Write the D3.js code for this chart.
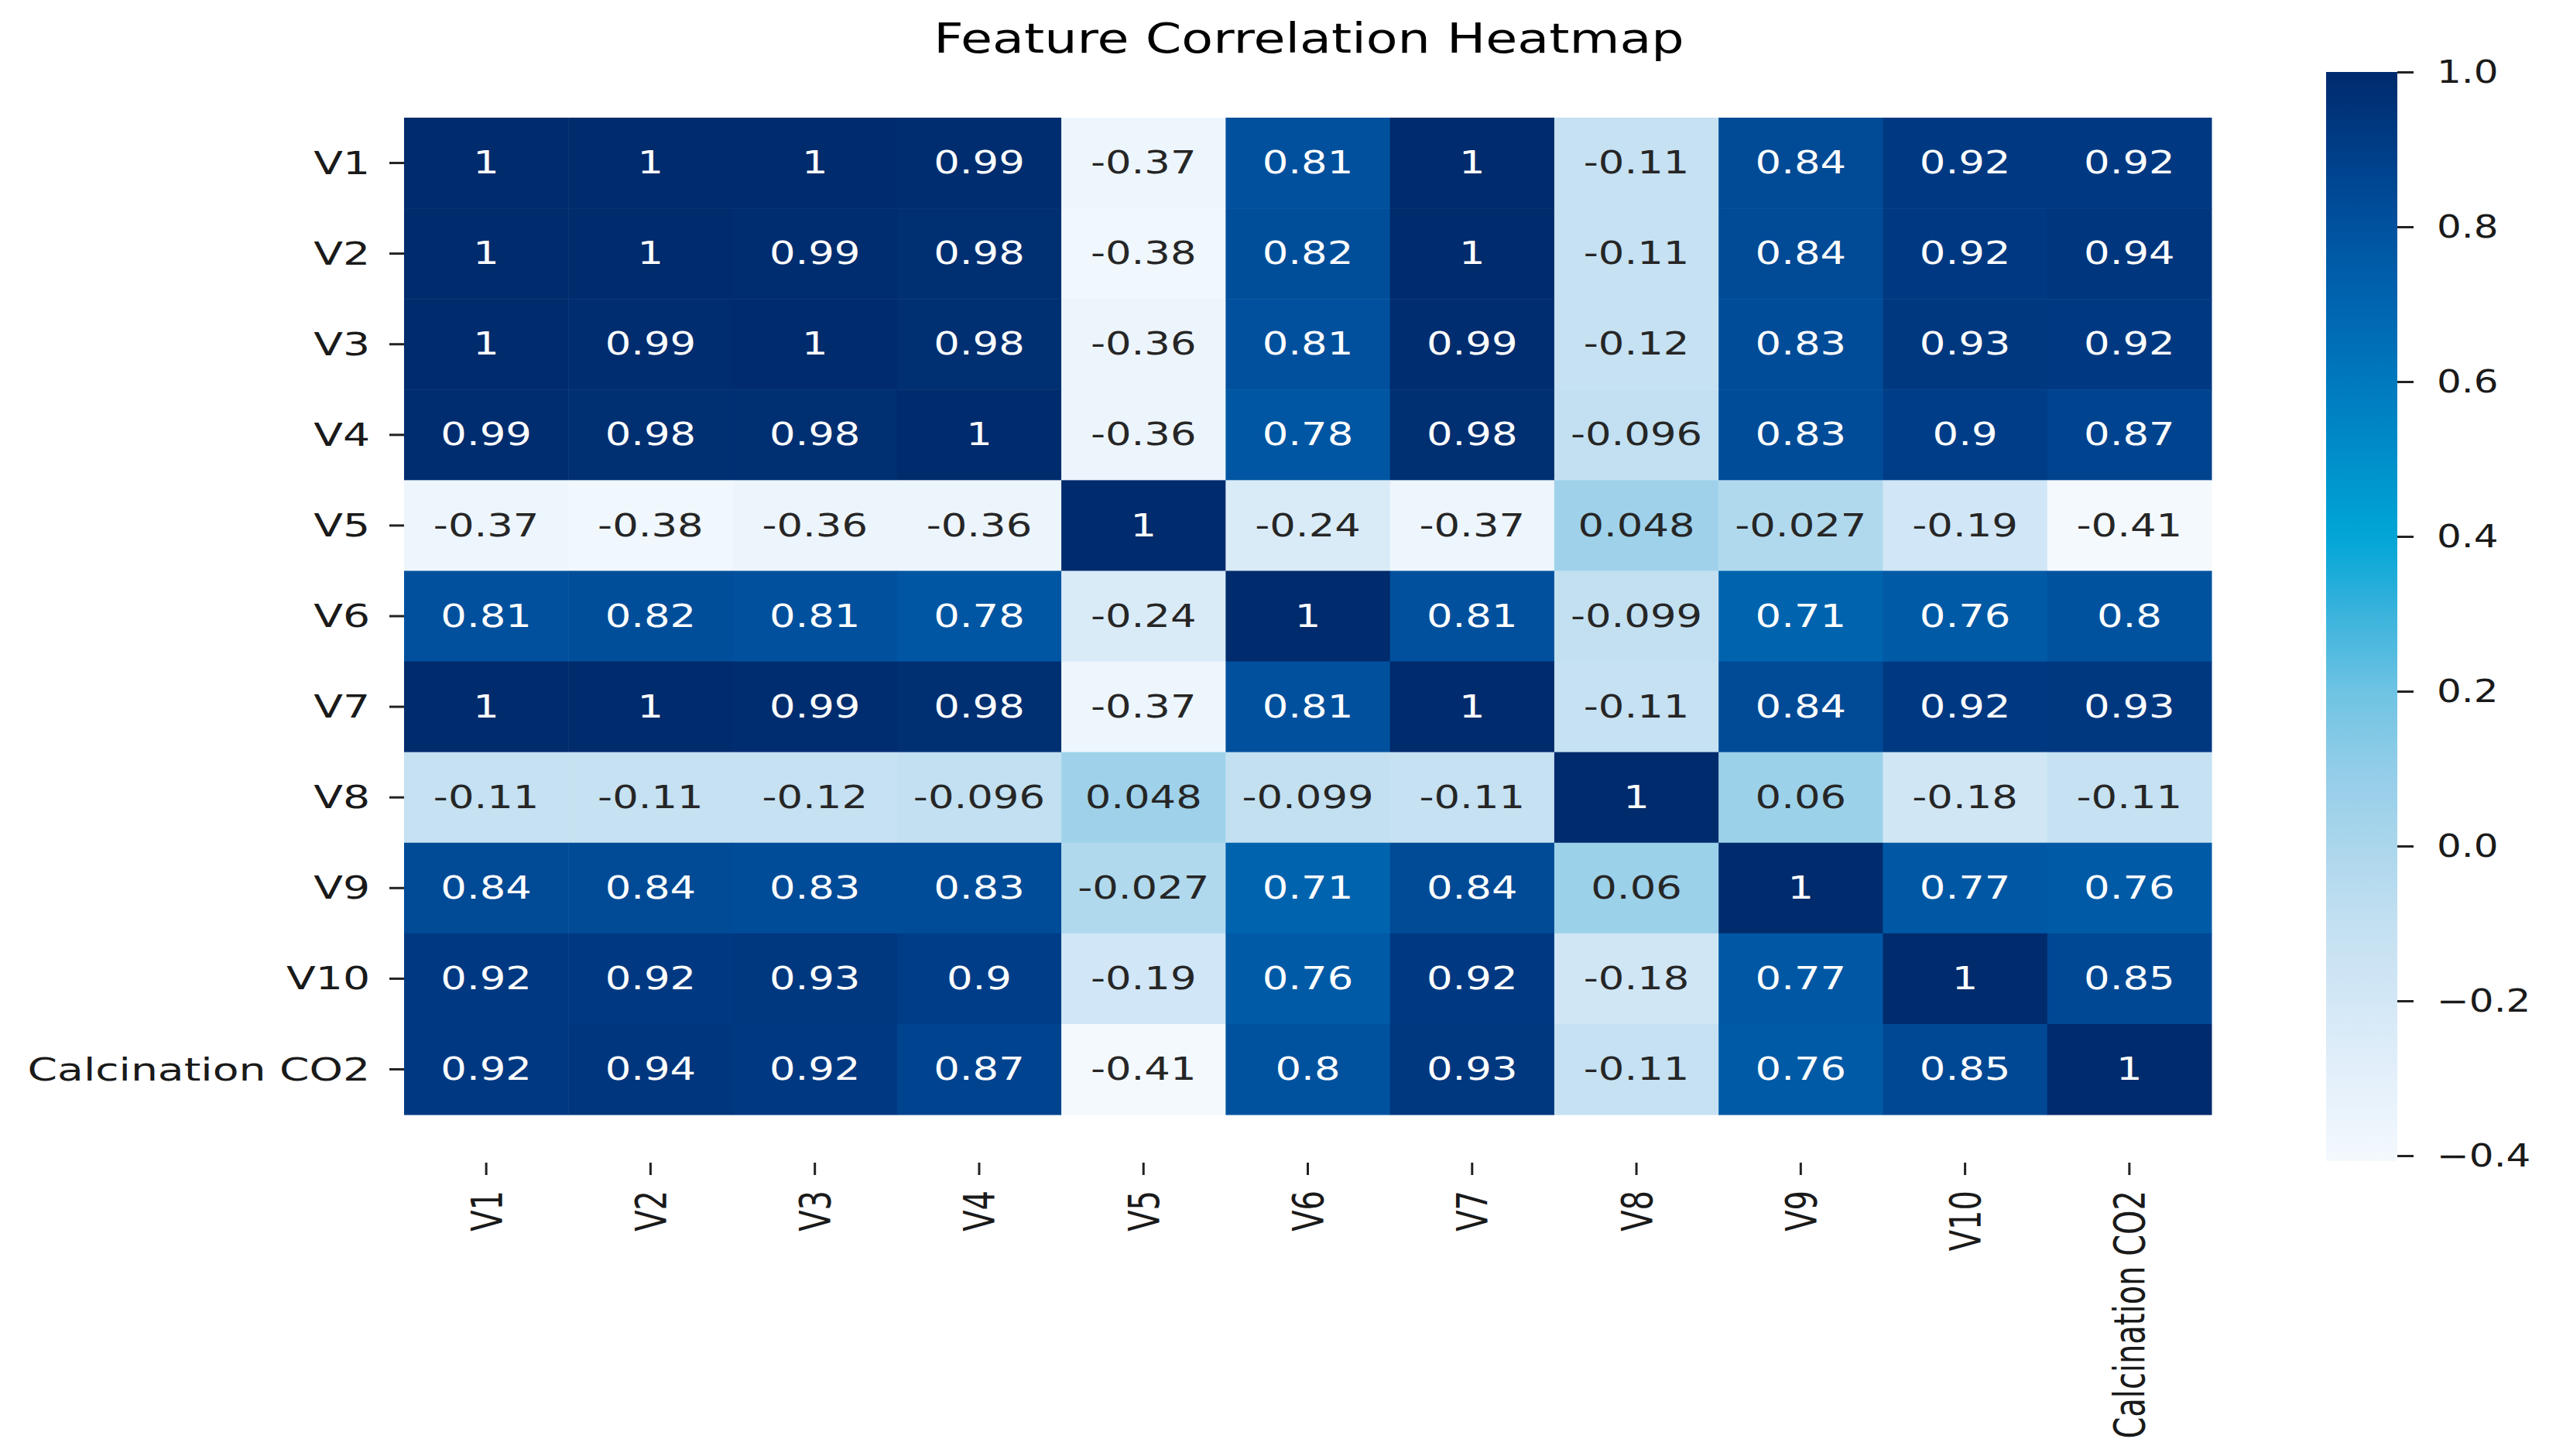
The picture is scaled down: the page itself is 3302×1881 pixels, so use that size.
<!DOCTYPE html>
<html>
<head>
<meta charset="utf-8">
<script src="https://cdn.jsdelivr.net/npm/d3@7"></script>
<style>
  html, body { margin: 0; padding: 0; background: #ffffff; }
  svg text { font-family: "DejaVu Sans", sans-serif; }
</style>
</head>
<body>
<svg id="chart" width="3302" height="1881"></svg>
<script>
// ---------- data ----------
const features = ["V1", "V2", "V3", "V4", "V5", "V6", "V7", "V8", "V9", "V10", "Calcination CO2"];
const rowV1  = [1, 1, 1, 0.99, -0.37, 0.81, 1, -0.11, 0.84, 0.92, 0.92];
const rowV2  = [1, 1, 0.99, 0.98, -0.38, 0.82, 1, -0.11, 0.84, 0.92, 0.94];
const rowV3  = [1, 0.99, 1, 0.98, -0.36, 0.81, 0.99, -0.12, 0.83, 0.93, 0.92];
const rowV4  = [0.99, 0.98, 0.98, 1, -0.36, 0.78, 0.98, -0.096, 0.83, 0.9, 0.87];
const rowV5  = [-0.37, -0.38, -0.36, -0.36, 1, -0.24, -0.37, 0.048, -0.027, -0.19, -0.41];
const rowV6  = [0.81, 0.82, 0.81, 0.78, -0.24, 1, 0.81, -0.099, 0.71, 0.76, 0.8];
const rowV7  = [1, 1, 0.99, 0.98, -0.37, 0.81, 1, -0.11, 0.84, 0.92, 0.93];
const rowV8  = [-0.11, -0.11, -0.12, -0.096, 0.048, -0.099, -0.11, 1, 0.06, -0.18, -0.11];
const rowV9  = [0.84, 0.84, 0.83, 0.83, -0.027, 0.71, 0.84, 0.06, 1, 0.77, 0.76];
const rowV10 = [0.92, 0.92, 0.93, 0.9, -0.19, 0.76, 0.92, -0.18, 0.77, 1, 0.85];
const rowCO2 = [0.92, 0.94, 0.92, 0.87, -0.41, 0.8, 0.93, -0.11, 0.76, 0.85, 1];
const colorbarTicks = [-0.4, -0.2, 0.0, 0.2, 0.4, 0.6, 0.8, 1.0];
const titleText = "Feature Correlation Heatmap";

// colour map stops (value -> colour)
const cmapValues = [-0.407, -0.3, -0.2, -0.1, 0.0, 0.1, 0.2, 0.3, 0.4, 0.5, 0.6, 0.7, 0.8, 0.9, 1.0];
const cmapColors = ["#f4f9fe", "#e4f0fa", "#d3e7f6", "#c3e0f1", "#abd6ec", "#92cde8", "#6ec3e3", "#3ab3dc",
                    "#00a6d6", "#008fca", "#0079be", "#0065b0", "#00529f", "#003d88", "#002b6c"];

const rows = [rowV1, rowV2, rowV3, rowV4, rowV5, rowV6, rowV7, rowV8, rowV9, rowV10, rowCO2];
const cells = [];
rows.forEach((r, i) => r.forEach((v, j) => cells.push({ row: features[i], col: features[j], v })));

// ---------- layout ----------
const svg = d3.select("#chart");
const hm = { left: 522, right: 2857, top: 152, bottom: 1440 };
const cb = { left: 3005, right: 3097 };
const SX_CELL = 1.32, SX_LABEL = 1.38, SX_CB = 1.25, SX_TITLE = 1.26;

const x = d3.scaleBand().domain(features).range([hm.left, hm.right]).padding(0);
const y = d3.scaleBand().domain(features).range([hm.top, hm.bottom]).padding(0);
const color = d3.scaleLinear().domain(cmapValues).range(cmapColors).interpolate(d3.interpolateRgb).clamp(true);
const cbScale = d3.scaleLinear().domain([cmapValues[0], 1.0]).range([1500, 93]);

// ---------- title ----------
svg.append("text")
  .attr("transform", `translate(1691,68) scale(${SX_TITLE},1)`)
  .attr("text-anchor", "middle")
  .attr("font-size", 53)
  .attr("fill", "#000")
  .text(titleText);

// ---------- cells ----------
svg.append("g").selectAll("rect").data(cells).join("rect")
  .attr("x", d => x(d.col))
  .attr("y", d => y(d.row))
  .attr("width", x.bandwidth() + 0.5)
  .attr("height", y.bandwidth() + 0.5)
  .attr("fill", d => color(d.v));

svg.append("g").selectAll("text").data(cells).join("text")
  .attr("transform", d => `translate(${x(d.col) + x.bandwidth() / 2},${y(d.row) + y.bandwidth() / 2}) scale(${SX_CELL},1)`)
  .attr("text-anchor", "middle")
  .attr("dominant-baseline", "central")
  .attr("font-size", 40)
  .attr("fill", d => d.v > 0.4 ? "#ffffff" : "#262626")
  .text(d => String(d.v));

// ---------- y axis ----------
const yAxis = svg.append("g")
  .attr("transform", `translate(${hm.left},0)`)
  .call(d3.axisLeft(y).tickSize(19).tickPadding(25));
yAxis.select(".domain").remove();
yAxis.selectAll(".tick line").attr("stroke", "#222").attr("stroke-width", 3);
yAxis.selectAll(".tick text")
  .attr("font-size", 40)
  .attr("fill", "#1a1a1a")
  .attr("dy", null)
  .attr("dominant-baseline", "central")
  .attr("transform", `translate(-44,0) scale(${SX_LABEL},1) translate(44,0)`);

// ---------- x axis ----------
const xAxis = svg.append("g")
  .attr("transform", `translate(0,1502)`)
  .call(d3.axisBottom(x).tickSize(16));
xAxis.select(".domain").remove();
xAxis.selectAll(".tick line").attr("stroke", "#222").attr("stroke-width", 3);
xAxis.selectAll(".tick text")
  .attr("font-size", 40)
  .attr("fill", "#1a1a1a")
  .attr("x", 0).attr("y", 0).attr("dy", null)
  .attr("text-anchor", "end")
  .attr("dominant-baseline", "central")
  .attr("transform", `translate(0,36) scale(${SX_LABEL},1) rotate(-90)`);

// ---------- colour bar ----------
const defs = svg.append("defs");
const grad = defs.append("linearGradient")
  .attr("id", "cbgrad").attr("x1", 0).attr("y1", 1).attr("x2", 0).attr("y2", 0);
const nStops = 60;
d3.range(nStops + 1).forEach(k => {
  const t = k / nStops;
  const v = cmapValues[0] + t * (1.0 - cmapValues[0]);
  grad.append("stop").attr("offset", t).attr("stop-color", color(v));
});
svg.append("rect")
  .attr("x", cb.left).attr("y", cbScale(1.0))
  .attr("width", cb.right - cb.left)
  .attr("height", cbScale(cmapValues[0]) - cbScale(1.0))
  .attr("fill", "url(#cbgrad)");

const cbAxis = svg.append("g")
  .attr("transform", `translate(${cb.right},0)`)
  .call(d3.axisRight(cbScale).tickValues(colorbarTicks).tickSize(21).tickPadding(30).tickFormat(d3.format(".1f")));
cbAxis.select(".domain").remove();
cbAxis.selectAll(".tick line").attr("stroke", "#222").attr("stroke-width", 3);
cbAxis.selectAll(".tick text")
  .attr("font-size", 40)
  .attr("fill", "#1a1a1a")
  .attr("dy", null)
  .attr("dominant-baseline", "central")
  .attr("transform", `translate(51,0) scale(${SX_CB},1) translate(-51,0)`);
</script>
</body>
</html>
